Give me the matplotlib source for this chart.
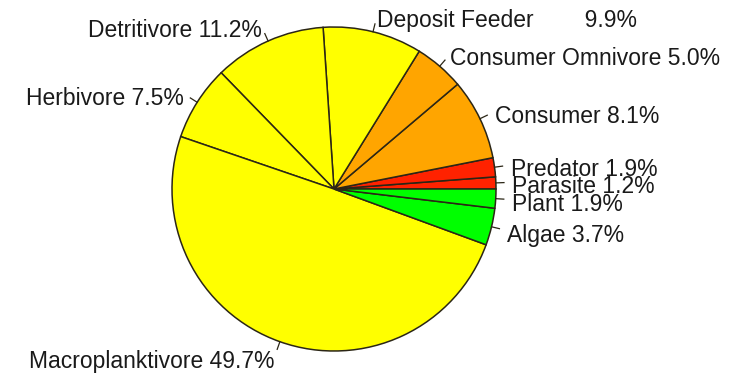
import numpy as np
import matplotlib.pyplot as plt
from matplotlib.transforms import offset_copy

# feeding guilds, in drawing order (counter-clockwise from 3 o'clock)
guilds = ["Parasite", "Predator", "Consumer", "Consumer Omnivore", "Deposit Feeder",
          "Detritivore", "Herbivore", "Macroplanktivore", "Algae", "Plant"]
percents = [1.2, 1.9, 8.1, 5.0, 9.9, 11.2, 7.5, 49.7, 3.7, 1.9]
colors = ["#FF2200", "#FF2200", "#FFA500", "#FFA500", "#FFFF00",
          "#FFFF00", "#FFFF00", "#FFFF00", "#00FF00", "#00FF00"]

labels = []
for g, p in zip(guilds, percents):
    if g == "Deposit Feeder":
        labels.append(f"{g}        {p:.1f}%")
    else:
        labels.append(f"{g} {p:.1f}%")

W, H = 732, 376
cx, cy, r = 334, 376 - 189, 162

fig = plt.figure(figsize=(W / 100, H / 100), dpi=100)
ax = fig.add_axes([0, 0, 1, 1])

wedges, _ = ax.pie(percents, colors=colors, startangle=0, counterclock=True,
                   center=(cx, cy), radius=r,
                   wedgeprops=dict(edgecolor="#2b2616", linewidth=1.1))

# text sits a touch below its anchor, like R's pie labels
txt_trans = offset_copy(ax.transData, fig=fig, x=0, y=-2, units="dots")

# R-style labels: short tick outside the rim, text just beyond it
for w, lab in zip(wedges, labels):
    a = np.deg2rad((w.theta1 + w.theta2) / 2)
    ca, sa = np.cos(a), np.sin(a)
    ax.plot([cx + r * ca, cx + 1.05 * r * ca], [cy + r * sa, cy + 1.05 * r * sa],
            color="#2b2616", lw=0.9)
    ax.text(cx + 1.1 * r * ca, cy + 1.1 * r * sa, lab, transform=txt_trans,
            ha="left" if ca >= 0 else "right", va="center_baseline",
            fontsize=16.5, family="Liberation Sans", color="#1a1a1a")

ax.set_xlim(0, W)
ax.set_ylim(0, H)
ax.set_aspect("equal")
ax.axis("off")

fig.savefig("out.png", dpi=100, facecolor="white")
